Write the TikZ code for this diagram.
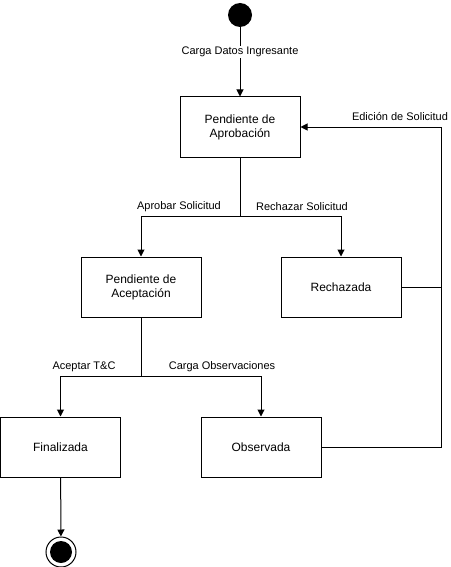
\documentclass[tikz,border=0pt]{standalone}
\usepackage{fontspec}
\setmainfont{Liberation Sans}
\usetikzlibrary{arrows.meta}
\begin{document}
\begin{tikzpicture}[x=1pt,y=-1pt,
  state/.style={draw, line width=1pt, minimum width=120pt, minimum height=60pt, align=center, inner sep=0pt, font=\fontsize{12}{14}\selectfont},
  lbl/.style={font=\fontsize{11}{13}\selectfont, inner sep=1pt},
  lblbg/.style={lbl, fill=white},
  conn/.style={line width=1pt},
  flow/.style={conn, -{Triangle[length=7pt,width=7pt]}}]
\useasboundingbox (0,0) rectangle (450,567);
\node[circle, fill=black, minimum size=24pt, inner sep=0pt] (start) at (240,15) {};
\node[state] (apr) at (240,127) {Pendiente de\\Aprobación};
\node[state] (acep) at (141,287) {Pendiente de\\Aceptación};
\node[state] (rech) at (341,287) {Rechazada};
\node[state] (fin) at (60.5,447) {Finalizada};
\node[state] (obs) at (261,447) {Observada};
\node[circle, draw, line width=1pt, minimum size=30pt, inner sep=0pt] (end) at (61,552) {};
\node[circle, fill=black, minimum size=22pt, inner sep=0pt] (endin) at (end.center) {};
\coordinate (j1) at (240,216);
\coordinate (j2) at (141,376);
\coordinate (r1) at (441,287);
\coordinate (r2) at (441,447);
\draw[flow] (start) -- node[lblbg, pos=0.36] (lcarga) {Carga Datos Ingresante} (apr);
\draw[conn] (apr) -- (j1);
\draw[flow] (j1) -| (acep);
\draw[flow] (j1) -| (rech);
\node[lbl] (lapr) at (179,207) {Aprobar Solicitud};
\node[lbl] (lrech) at (302,207) {Rechazar Solicitud};
\draw[conn] (rech.east) -- (r1);
\draw[flow] (obs.east) -- (r2) |- (apr.east);
\node[lbl] (ledit) at (400,117) {Edición de Solicitud};
\draw[conn] (acep) -- (j2);
\draw[flow] (j2) -| (fin);
\draw[flow] (j2) -| (obs);
\node[lbl] (lacep) at (84,367) {Aceptar T\&C};
\node[lbl] (lobs) at (222,367) {Carga Observaciones};
\draw[flow] (fin) -- (end);
\end{tikzpicture}
\end{document}
